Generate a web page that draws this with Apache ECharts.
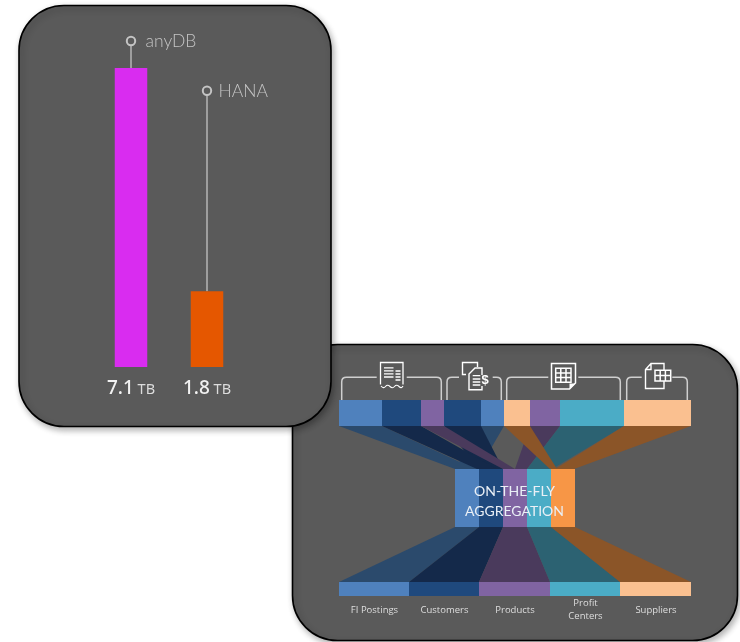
<!DOCTYPE html>
<html><head><meta charset="utf-8">
<style>html,body{margin:0;padding:0;background:#fff}#c{width:740px;height:642px}</style>
<script src="https://cdn.jsdelivr.net/npm/echarts@6/dist/echarts.min.js"></script>
</head><body><div id="c"></div>
<script>
// ---- bar chart data ----
const systems = ['anyDB', 'HANA'];
const sizesTB = [7.1, 1.8];
const leaderTops = [7.74, 6.56];
const barColors = ['#d92cf0', '#e55700'];

// ---- flow diagram data (widths along the strip, in diagram units) ----
const topWidths = [43, 39, 23, 37, 23, 26, 30, 64, 67];
const topKinds = [0, 1, 2, 1, 0, 4, 2, 3, 4];
const midWidths = [24, 24, 24, 24, 24];
const bottomWidths = [70, 70, 71, 70, 71];
const bottomLabels = ['FI Postings', 'Customers', 'Products', 'Profit\nCenters', 'Suppliers'];
const rowHeights = [26, 43, 58, 55, 14];
const midOffset = 116;
// top segment index -> target span on the middle block, listed in drawing order
const flowSegment = [4, 0, 3, 1, 2, 6, 7, 5, 8];
const flowTargetStart = [116, 116, 140, 138, 164, 176, 188, 211, 216];
const flowTargetEnd = [140, 136, 164, 158, 176, 188, 213, 218, 235];

const solid = ['#4f81bd', '#1f497d', '#8064a2', '#4bacc6', '#fac090'];
const midSolid = ['#4f81bd', '#1f497d', '#8064a2', '#4bacc6', '#f79646'];
const shade = ['#2b4a6c', '#14294a', '#4a3a5c', '#2c6272', '#8b5528'];

const edges = a => a.reduce((o, v) => (o.push(o[o.length - 1] + v), o), [0]);
const rows = edges(rowHeights);
const topE = edges(topWidths), midE = edges(midWidths).map(v => v + midOffset), botE = edges(bottomWidths);

const quads = [];
flowSegment.forEach((s, i) => quads.push([topE[s], topE[s + 1], rows[1], flowTargetStart[i], flowTargetEnd[i], rows[2], shade[topKinds[s]]]));
midWidths.forEach((w, i) => quads.push([midE[i], midE[i + 1], rows[3], botE[i], botE[i + 1], rows[4], shade[i]]));
topWidths.forEach((w, i) => quads.push([topE[i], topE[i + 1], rows[0], topE[i], topE[i + 1], rows[1], solid[topKinds[i]]]));
midWidths.forEach((w, i) => quads.push([midE[i], midE[i + 1], rows[2], midE[i], midE[i + 1], rows[3], midSolid[i]]));
bottomWidths.forEach((w, i) => quads.push([botE[i], botE[i + 1], rows[4], botE[i], botE[i + 1], rows[5], solid[i]]));

const ICON = '#ffffff', BRK = '#cfcfcf';
const pinGap = [14.5, 11.5];
const stroke = (pathData, color, w) => ({ type: 'path', shape: { pathData }, style: { fill: 'none', stroke: color, lineWidth: w } });
const panel = (x, y, w, h) => ({ type: 'rect', z: -10, shape: { x, y, width: w, height: h, r: 45 },
  style: { fill: '#5a5a5a', stroke: '#000', lineWidth: 1.6, shadowBlur: 6, shadowOffsetX: 2, shadowOffsetY: 3, shadowColor: 'rgba(0,0,0,0.3)' } });

const panels = [ panel(292.5, 344.5, 445, 296), panel(19, 5.5, 312, 421) ];
const decorations = [
  // brackets
  stroke('M341.7,400V382Q341.7,377.3 346.5,377.3H376.7M406.7,377.3H436.5Q441.3,377.3 441.3,382V400', BRK, 1.5),
  stroke('M447,400V382Q447,377.3 451.8,377.3H459M492.7,377.3H496.5Q501.3,377.3 501.3,382V400', BRK, 1.5),
  stroke('M506.7,400V382Q506.7,377.3 511.5,377.3H548.3M578.3,377.3H615.5Q620.3,377.3 620.3,382V400', BRK, 1.5),
  stroke('M626.7,400V382Q626.7,377.3 631.5,377.3H641.7M672.3,377.3H682.5Q687.3,377.3 687.3,382V400', BRK, 1.5),
  // receipt icon
  stroke('M380.5,384.5V362.5H403V384.5', ICON, 1.3),
  stroke('M381,386Q383.5,389 385.5,386.5T390,386.5T394.5,386.5T399,386.5T403,386', ICON, 1.1),
  stroke('M384,367.8H393.5M384,370.8H393.5M384,373.8H393.5M384,377H393.5M395.5,371H400.5M395.5,374H400.5M395.5,377H400.5M395.5,380H400.5', ICON, 1.3),
  // invoice icon
  stroke('M466,374.5H462.5V362.5H477.5V367', ICON, 1.4),
  stroke('M482,375V368H475L469,374V389.7H482V386', ICON, 1.4),
  stroke('M472.7,375.7H480.3M472.7,379H480.3M472.7,382H480.3M472.7,385H480.3', ICON, 1.3),
  { type: 'text', style: { text: '$', x: 485, y: 380.5, fill: ICON, font: 'bold 13px "Liberation Sans"', textAlign: 'center', textVerticalAlign: 'middle' } },
  // spreadsheet icon
  stroke('M551.5,363.5H575.5V383L569.5,389H551.5Z', ICON, 1.5),
  { type: 'path', shape: { pathData: 'M569.5,389V383.5H575.5Z' }, style: { fill: ICON } },
  stroke('M555.7,368.3H571V382.3H555.7ZM560.8,368.3V382.3M566,368.3V382.3M555.7,373H571M555.7,377.6H571', ICON, 1.5),
  // table document icon
  stroke('M664,370V363.5H651L645.5,369.5V388.5H664V381M651,363.5V369.5H645.5', ICON, 1.4),
  stroke('M655,370.3H670.7V381H655ZM660.2,370.3V381M665.4,370.3V381M655,375.6H670.7', ICON, 1.5),
  // centre title
  { type: 'text', style: { text: 'ON-THE-FLY\nAGGREGATION', x: 514.5, y: 501.5, fill: '#eaf0f6', font: '14px Lato', lineHeight: 20, textAlign: 'center', textVerticalAlign: 'middle' } }
];

const chart = echarts.init(document.getElementById('c'), null, { renderer: 'canvas' });
chart.setOption({
  animation: false,
  backgroundColor: '#ffffff',
  graphic: { elements: panels },
  grid: [
    { left: 93, width: 152, top: 0.6, height: 366.4 },
    { left: 339, width: 352, top: 400, height: 196 }
  ],
  xAxis: [
    { type: 'category', gridIndex: 0, data: systems.map((s, i) => `{v|${sizesTB[i]}} {u|TB}`),
      axisLine: { show: false }, axisTick: { show: false }, splitLine: { show: false },
      axisLabel: { margin: 12.5, interval: 0, formatter: v => v, fontFamily: '"Noto Sans"', fontSize: 14.5, color: '#dcdcdc',
        rich: { v: { fontFamily: '"Noto Sans"', fontWeight: 500, fontSize: 19, color: '#f2f2f2' },
                u: { fontFamily: '"Noto Sans"', fontWeight: 400, fontSize: 14.5, color: '#dcdcdc', padding: [1, 0, 0, 0] } } } },
    { type: 'value', gridIndex: 1, min: 0, max: topE[topE.length - 1], show: false }
  ],
  yAxis: [
    { type: 'value', gridIndex: 0, min: 0, max: 8.7, show: false },
    { type: 'value', gridIndex: 1, min: 0, max: rows[rows.length - 1], inverse: true, show: false }
  ],
  series: [
    { type: 'custom', xAxisIndex: 0, yAxisIndex: 0, z: 1, clip: false, silent: true,
      data: systems.map((s, i) => [i, sizesTB[i], leaderTops[i]]),
      renderItem(p, api) {
        const i = api.value(0);
        const a = api.coord([i, api.value(1)]), b = api.coord([i, api.value(2)]);
        const line = { stroke: '#c4c4c4', lineWidth: 1.3 };
        return { type: 'group', children: [
          { type: 'line', shape: { x1: a[0], y1: a[1], x2: b[0], y2: b[1] + 4 }, style: line },
          { type: 'circle', shape: { cx: b[0], cy: b[1], r: 4.2 }, style: { fill: 'none', stroke: '#c4c4c4', lineWidth: 2 } },
          { type: 'text', style: { text: systems[i], x: b[0] + pinGap[i], y: b[1] + 0.8, fill: '#c4c4c4', font: '300 17.5px Lato', textAlign: 'left', textVerticalAlign: 'middle' } }
        ] };
      } },
    { type: 'bar', xAxisIndex: 0, yAxisIndex: 0, z: 2, barWidth: 32.5, silent: true,
      data: sizesTB.map((v, i) => ({ value: v, itemStyle: { color: barColors[i] } })) },
    { type: 'custom', xAxisIndex: 1, yAxisIndex: 1, z: 2, clip: false, silent: true,
      data: quads.map((q, i) => [i]),
      renderItem(p, api) {
        const q = quads[api.value(0)];
        const pts = [[q[0], q[2]], [q[1], q[2]], [q[4], q[5]], [q[3], q[5]]].map(c => api.coord(c));
        return { type: 'polygon', shape: { points: pts }, style: { fill: q[6] } };
      } },
    { type: 'custom', xAxisIndex: 1, yAxisIndex: 1, z: 3, clip: false, silent: true,
      data: bottomLabels.map((l, i) => [i]),
      renderItem(p, api) {
        const i = api.value(0);
        const c = api.coord([(botE[i] + botE[i + 1]) / 2, rows[5]]);
        return { type: 'text', style: { text: bottomLabels[i], x: c[0] + 0.5, y: c[1] + 14, fill: '#dedede', font: '9.5px "Open Sans"', lineHeight: 13, textAlign: 'center', textVerticalAlign: 'middle' } };
      } },
    { type: 'custom', coordinateSystem: 'none', z: 4, silent: true, data: [[0]],
      renderItem() { return { type: 'group', children: decorations }; } }
  ]
});
</script></body></html>
